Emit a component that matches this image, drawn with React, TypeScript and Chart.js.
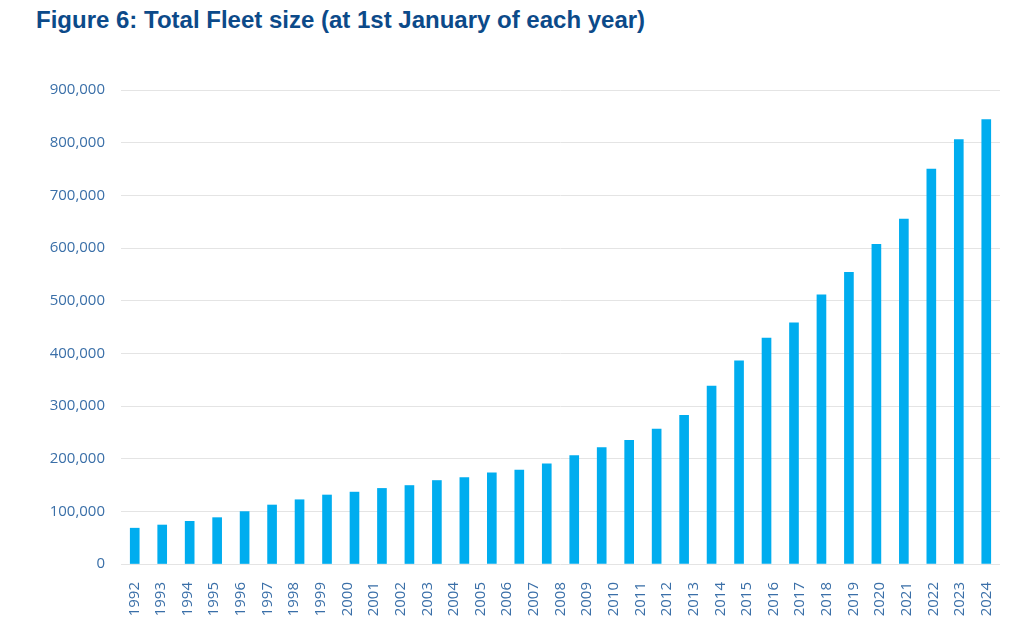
import React, { useEffect, useRef } from 'react';
import { Chart, registerables } from 'chart.js';

Chart.register(...registerables);

// Tick labels along the bottom (33 years)
const yearLabels = [
  '1992', '1993', '1994', '1995', '1996', '1997', '1998', '1999', '2000', '2001', '2002',
  '2003', '2004', '2005', '2006', '2007', '2008', '2009', '2010', '2011', '2012', '2013',
  '2014', '2015', '2016', '2017', '2018', '2019', '2020', '2021', '2022', '2023', '2024',
];

// Bar heights (the source shows 32 bars under 33 labels)
const fleetSize = [
  68000, 74000, 81000, 88000, 99500, 112000, 122000, 131000, 136500, 143500, 149000,
  158500, 164000, 173000, 178500, 190000, 206000, 221000, 235000, 256000, 282500, 338000,
  386000, 429000, 458000, 511000, 554000, 607000, 655000, 750000, 806000, 844000,
];

const yTicks = [0, 100000, 200000, 300000, 400000, 500000, 600000, 700000, 800000, 900000];

const TICK_FONT = { family: "'Open Sans', 'Noto Sans', sans-serif", size: 15 };
const TICK_COLOR = '#3a6fa8';

function FleetChart() {
  const chartRef = useRef<HTMLCanvasElement>(null);
  const chartInstance = useRef<Chart | null>(null);

  useEffect(() => {
    if (!chartRef.current) return;
    const ctx = chartRef.current.getContext('2d');
    if (!ctx) return;

    if (chartInstance.current) {
      chartInstance.current.destroy();
      chartInstance.current = null;
    }

    chartInstance.current = new Chart(ctx, {
      type: 'bar',
      data: {
        datasets: [
          {
            label: 'Total fleet size',
            data: fleetSize,
            xAxisID: 'x',
            backgroundColor: '#00adef',
            borderWidth: 0,
            barThickness: 9,
          },
        ],
      },
      options: {
        responsive: true,
        maintainAspectRatio: false,
        animation: false,
        layout: { padding: { top: 40, right: 24, left: 0, bottom: 0 } },
        plugins: {
          legend: { display: false },
          title: { display: false },
          tooltip: { enabled: false },
        },
        scales: {
          x: {
            type: 'category',
            labels: fleetSize.map((_, i) => String(i)),
            offset: true,
            display: false,
            grid: { display: false },
          },
          years: {
            type: 'category',
            position: 'bottom',
            labels: yearLabels,
            offset: true,
            grid: { display: false },
            border: { display: false },
            ticks: {
              autoSkip: false,
              minRotation: 90,
              maxRotation: 90,
              padding: 10,
              color: TICK_COLOR,
              font: TICK_FONT,
            },
            afterFit: (scale: any) => {
              scale.height = 75;
            },
          },
          y: {
            type: 'linear',
            min: 0,
            max: 900000,
            afterBuildTicks: (scale: any) => {
              scale.ticks = yTicks.map((v) => ({ value: v }));
            },
            grid: { color: '#e4e4e4', lineWidth: 1, drawTicks: false },
            border: { display: false },
            ticks: {
              padding: 16,
              color: TICK_COLOR,
              font: TICK_FONT,
              callback: (v: any) => Number(v).toLocaleString('en-US'),
            },
            afterFit: (scale: any) => {
              scale.width = 121;
            },
          },
        },
      },
    });

    return () => {
      if (chartInstance.current) {
        chartInstance.current.destroy();
        chartInstance.current = null;
      }
    };
  }, []);

  return (
    <div style={{ position: 'absolute', left: 0, top: 50, width: 1024, height: 589 }}>
      <canvas ref={chartRef}></canvas>
    </div>
  );
}

export default function App() {
  return (
    <div
      style={{
        position: 'absolute',
        left: 0,
        top: 0,
        width: 1024,
        height: 639,
        background: '#ffffff',
        overflow: 'hidden',
      }}
    >
      <div
        style={{
          position: 'absolute',
          left: 36,
          top: 8,
          fontFamily: "'Liberation Sans Narrow', 'Liberation Sans', Arial, sans-serif",
          fontWeight: 'bold',
          fontSize: 24,
          lineHeight: '24px',
          color: '#0c4a89',
          whiteSpace: 'nowrap',
        }}
      >
        Figure 6: Total Fleet size (at 1st January of each year)
      </div>
      <FleetChart />
    </div>
  );
}
